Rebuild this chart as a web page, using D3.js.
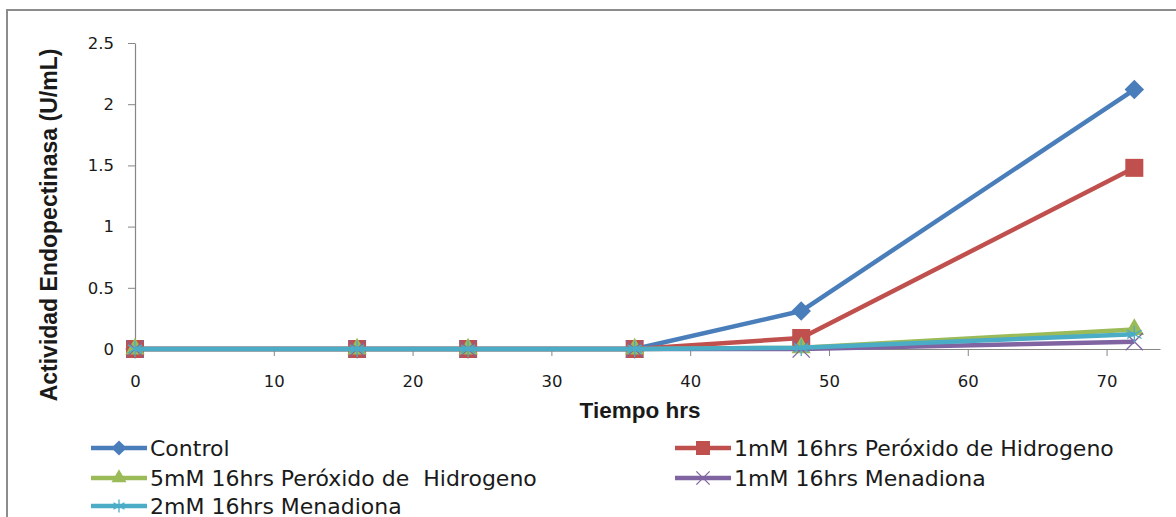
<!DOCTYPE html>
<html>
<head>
<meta charset="utf-8">
<script src="https://cdn.jsdelivr.net/npm/d3@7"></script>
<style>
	body { margin: 0; background: #fff; }
	svg { display: block; font-family: 'DejaVu Sans', sans-serif; }
</style>
</head>
<body>
<div id="chart"></div>
<script>
'use strict'

var hours = [0, 16, 24, 36, 48, 72];
var control = [0, 0, 0, 0, 0.31, 2.12];
var perox1mM = [0, 0, 0, 0, 0.09, 1.48];
var perox5mM = [0, 0, 0, 0, 0.01, 0.16];
var mena1mM = [0, 0, 0, 0, 0, 0.06];
var mena2mM = [0, 0, 0, 0, 0.01, 0.12];
var seriesNames = [
	'Control',
	'1mM 16hrs Peróxido de Hidrogeno',
	'5mM 16hrs Peróxido de  Hidrogeno',
	'1mM 16hrs Menadiona',
	'2mM 16hrs Menadiona'
];
var xTicks = [0, 10, 20, 30, 40, 50, 60, 70];
var yTicks = [0, 0.5, 1, 1.5, 2, 2.5];

(function() {
	var dimensions = { width: 1176, height: 517 };
	var plot = { left: 135, right: 1160, top: 43, bottom: 349 };

	var svg = d3.select('#chart').append('svg')
		.attr('width', dimensions.width)
		.attr('height', dimensions.height);

	// outer chart frame (only top and left visible)
	svg.append('rect')
		.attr('x', 7).attr('y', 10)
		.attr('width', 1300).attr('height', 700)
		.attr('fill', 'none')
		.attr('stroke', '#8c8c8c')
		.attr('stroke-width', 2);

	var x = d3.scaleLinear().domain([0, 73.85]).range([plot.left, plot.right]);
	var y = d3.scaleLinear().domain([0, 2.5]).range([plot.bottom, plot.top]);

	var xAxis = svg.append('g')
		.attr('transform', 'translate(0,' + plot.bottom + ')')
		.call(d3.axisBottom(x).tickValues(xTicks).tickSize(7).tickSizeOuter(0).tickPadding(19));

	var yAxis = svg.append('g')
		.attr('transform', 'translate(' + plot.left + ',0)')
		.call(d3.axisLeft(y).tickValues(yTicks).tickSize(7).tickSizeOuter(0).tickPadding(14)
			.tickFormat(function(d) { return String(d); }));

	[xAxis, yAxis].forEach(function(g) {
		g.select('.domain').attr('stroke', '#868686').attr('stroke-width', 1.2);
		g.selectAll('.tick line').attr('stroke', '#868686');
		g.selectAll('.tick text')
			.attr('fill', '#1a1a1a')
			.style('font-size', '16.5px')
			.style('font-family', "'DejaVu Sans', sans-serif");
	});

	svg.append('text')
		.attr('x', 640).attr('y', 418)
		.attr('text-anchor', 'middle')
		.style('font-family', "'Liberation Sans', Arial, sans-serif")
		.style('font-size', '22.5px')
		.style('font-weight', 'bold')
		.attr('fill', '#1a1a1a')
		.text('Tiempo hrs');

	svg.append('text')
		.attr('transform', 'translate(57,225) rotate(-90)')
		.attr('text-anchor', 'middle')
		.style('font-family', "'Liberation Sans', Arial, sans-serif")
		.style('font-size', '23px')
		.style('font-weight', 'bold')
		.attr('fill', '#1a1a1a')
		.text('Actividad Endopectinasa (U/mL)');

	var series = [
		{ name: seriesNames[0], values: control, color: '#4a7ebb', marker: 'diamond' },
		{ name: seriesNames[1], values: perox1mM, color: '#c0504d', marker: 'square' },
		{ name: seriesNames[2], values: perox5mM, color: '#9bbb59', marker: 'triangle' },
		{ name: seriesNames[3], values: mena1mM, color: '#8064a2', marker: 'x' },
		{ name: seriesNames[4], values: mena2mM, color: '#4bacc6', marker: 'star' }
	];

	var line = d3.line()
		.x(function(d) { return x(d[0]); })
		.y(function(d) { return y(d[1]); });

	function drawMarker(g, type, color, cx, cy, s) {
		if (type === 'diamond') {
			g.append('path')
				.attr('d', d3.symbol().type(d3.symbolDiamond2).size(s * s * 0.75)())
				.attr('transform', 'translate(' + cx + ',' + cy + ')')
				.attr('fill', color);
		} else if (type === 'square') {
			g.append('rect')
				.attr('x', cx - s / 2).attr('y', cy - s / 2)
				.attr('width', s).attr('height', s)
				.attr('fill', color);
		} else if (type === 'triangle') {
			g.append('path')
				.attr('d', d3.symbol().type(d3.symbolTriangle).size(s * s * 0.5)())
				.attr('transform', 'translate(' + cx + ',' + cy + ')')
				.attr('fill', color);
		} else if (type === 'x') {
			g.append('path')
				.attr('d', d3.symbol().type(d3.symbolX).size(s * s * 0.6)())
				.attr('transform', 'translate(' + cx + ',' + cy + ')')
				.attr('fill', 'none').attr('stroke', color).attr('stroke-width', 1.3);
		} else {
			g.append('path')
				.attr('d', d3.symbol().type(d3.symbolAsterisk).size(s * s * 0.6)())
				.attr('transform', 'translate(' + cx + ',' + cy + ')')
				.attr('fill', 'none').attr('stroke', color).attr('stroke-width', 1.3);
		}
	}

	series.forEach(function(s) {
		var pts = hours.map(function(h, i) { return [h, s.values[i]]; });
		svg.append('path')
			.datum(pts)
			.attr('d', line)
			.attr('fill', 'none')
			.attr('stroke', s.color)
			.attr('stroke-width', 4.5)
			.attr('stroke-linejoin', 'round');
		var g = svg.append('g');
		pts.forEach(function(p) {
			drawMarker(g, s.marker, s.color, x(p[0]), y(p[1]), 18);
		});
	});

	// legend
	var legendPos = [
		{ x: 91, y: 448 }, { x: 675, y: 448 },
		{ x: 91, y: 478 }, { x: 675, y: 478 },
		{ x: 91, y: 506 }
	];
	series.forEach(function(s, i) {
		var p = legendPos[i];
		var g = svg.append('g');
		g.append('line')
			.attr('x1', p.x).attr('x2', p.x + 56)
			.attr('y1', p.y).attr('y2', p.y)
			.attr('stroke', s.color).attr('stroke-width', 4.5);
		drawMarker(g, s.marker, s.color, p.x + 28, p.y, 14);
		g.append('text')
			.attr('x', p.x + 59).attr('y', p.y)
			.attr('dy', '0.36em')
			.style('font-size', '22px')
			.style('white-space', 'pre')
			.attr('fill', '#1a1a1a')
			.text(s.name);
	});
})();
</script>
</body>
</html>
